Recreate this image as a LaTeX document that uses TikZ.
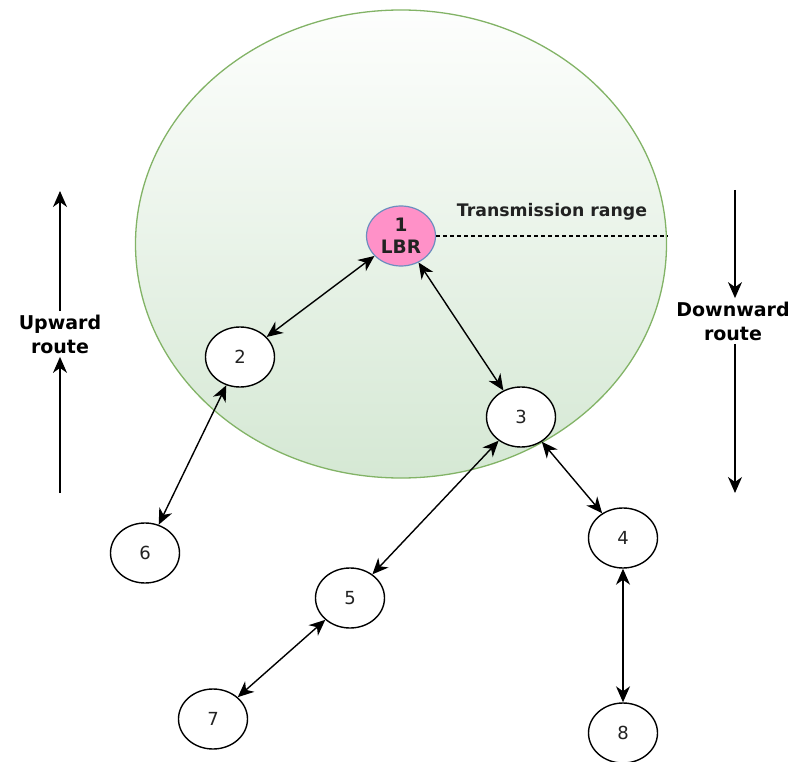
\documentclass[tikz,border=0pt]{standalone}
\usepackage{fontspec}
\setmainfont{DejaVu Sans}
\usetikzlibrary{arrows.meta,shapes.geometric}

\definecolor{rangeedge}{HTML}{82B366}
\definecolor{rangefill}{HTML}{D5E8D4}
\definecolor{rangetop}{HTML}{FDFEFD}
\definecolor{rootfill}{HTML}{FF91C8}
\definecolor{rootedge}{HTML}{6C8EBF}
\definecolor{inkgrey}{HTML}{222222}

\tikzset{
  linktip/.tip={Stealth[length=16pt,width=14pt,inset=5pt]},
  mote/.style={ellipse, draw=black, line width=1.4pt, fill=white,
    minimum width=69pt, minimum height=60pt, inner sep=0pt,
    text=inkgrey, font=\fontsize{18pt}{21pt}\selectfont},
  root/.style={mote, draw=rootedge, line width=1.2pt, fill=rootfill,
    align=center, text=inkgrey, font=\fontsize{18.5pt}{22pt}\selectfont\bfseries},
  link/.style={line width=1.4pt, linktip-linktip},
  route/.style={line width=1.4pt, -linktip},
  routelabel/.style={align=center, font=\fontsize{19pt}{24pt}\selectfont\bfseries}
}

\begin{document}
\begin{tikzpicture}[x=1pt,y=-1pt]
  \useasboundingbox (0,0) rectangle (792,762);

  % transmission range of the border router
  \node[ellipse, draw=rangeedge, line width=1.3pt, top color=rangetop,
        bottom color=rangefill, minimum width=531pt, minimum height=468pt,
        inner sep=0pt] (range) at (401,244) {};

  % nodes
  \node[root] (n1) at (401,236) {1\\LBR};
  \node[mote] (n2) at (240,357) {2};
  \node[mote] (n3) at (521,417) {3};
  \node[mote] (n4) at (623,538) {4};
  \node[mote] (n5) at (350,598) {5};
  \node[mote] (n6) at (145,553) {6};
  \node[mote] (n7) at (213,719) {7};
  \node[mote] (n8) at (623,733) {8};

  % range radius
  \draw[dash pattern=on 4pt off 3pt, line width=1.1pt] (n1.east) -- (n1.east -| range.east);
  \node[text=inkgrey, font=\fontsize{17.3pt}{20pt}\selectfont\bfseries] (rlabel) at (552,212) {Transmission range};

  % links
  \draw[link] (n2) -- (n1);
  \draw[link] (n1) -- (n3);
  \draw[link] (n2) -- (n6);
  \draw[link] (n3) -- (n5);
  \draw[link] (n3) -- (n4);
  \draw[link] (n5) -- (n7);
  \draw[link] (n4) -- (n8);

  % upward route
  \node[routelabel] (up) at (60,334) {Upward\\route};
  \coordinate (uptop) at (60,191);
  \coordinate (upbot) at (60,493);
  \draw[route] (up.north) -- (uptop);
  \draw[route] (upbot) -- (up.south);

  % downward route
  \node[routelabel] (down) at (733,321) {Downward\\route};
  \coordinate (downtop) at (735,190);
  \coordinate (downbot) at (735,493);
  \draw[route] (downtop) -- (downtop |- down.north);
  \draw[route] (downtop |- down.south) -- (downbot);
\end{tikzpicture}
\end{document}
